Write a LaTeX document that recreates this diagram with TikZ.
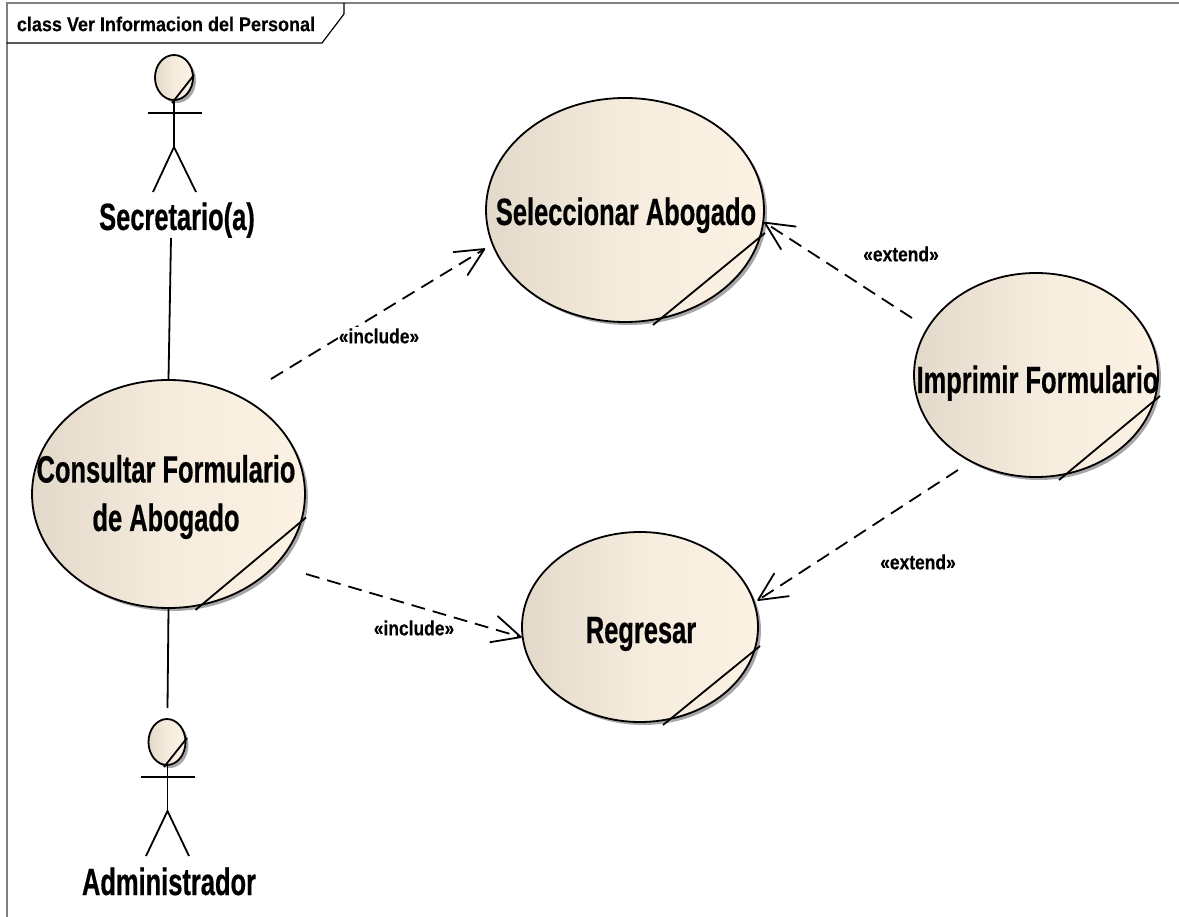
\documentclass[tikz,border=0pt]{standalone}
\usepackage{fontspec}
\usetikzlibrary{arrows.meta,shapes.geometric,shadows}
\newfontfamily\namefont[FakeStretch=.67,BoldFeatures={FakeBold=.5}]{Liberation Sans}
\newfontfamily\smallfont[FakeStretch=.85,BoldFeatures={FakeBold=.2}]{Liberation Sans}
\newfontfamily\titlefont[FakeStretch=.9,BoldFeatures={FakeBold=.2}]{Liberation Sans}
\definecolor{caseleft}{HTML}{E2D9CA}
\definecolor{casemid}{HTML}{F6ECDE}
\definecolor{caseright}{HTML}{FCF2E4}
\tikzset{
	usecase/.style={ellipse,draw,line width=1.8pt,inner sep=0pt,left color=caseleft,right color=caseright,middle color=casemid,
		general shadow={shadow xshift=3pt,shadow yshift=-3pt,fill=black!35}},
	usename/.style={font=\namefont\bfseries\fontsize{38}{48.5}\selectfont,align=center,inner sep=0pt},
	stereo/.style={font=\smallfont\bfseries\fontsize{20.5}{24}\selectfont,fill=white,inner sep=1pt},
	stick/.style={line width=1.8pt},
	dep/.style={line width=1.8pt,dash pattern=on 14pt off 8pt,->,>={Straight Barb[length=28pt,width=27pt,line width=1.8pt,round=false]}}
}
\begin{document}
\begin{tikzpicture}[x=1pt,y=-1pt]
	\useasboundingbox (0,0) rectangle (1179,917);
	% frame
	\draw [line width=2pt,black!50] (6.5,917) -- (6.5,3) -- (1179,3);
	\draw [line width=1.2pt] (6.5,43) -- (322,43) -- (344,14) -- (344,3);
	\node [font=\titlefont\bfseries\fontsize{20}{24}\selectfont,inner sep=0pt] (title) at (166,24) {class Ver Informacion del Personal};

	% actors
	\node [usecase,minimum width=38pt,minimum height=45pt] (sechead) at (174,77.5) {};
	\draw [stick] (172,103) -- (194,75);
	\coordinate (secneck) at (174,100);
	\coordinate (sechip) at (174,147);
	\coordinate (secarml) at (148,113);
	\coordinate (secarmr) at (202,113);
	\coordinate (seclegl) at (153,192);
	\coordinate (seclegr) at (196,192);
	\draw [stick] (secneck) -- (sechip);
	\draw [stick] (secarml) -- (secarmr);
	\draw [stick] (seclegl) -- (sechip) -- (seclegr);
	\node [usename,anchor=base] (secname) at (177,230) {Secretario(a)};

	\node [usecase,minimum width=37pt,minimum height=46pt] (admhead) at (167,742) {};
	\draw [stick] (164,767) -- (187,738);
	\coordinate (admneck) at (167.5,765);
	\coordinate (admhip) at (167.5,811);
	\coordinate (admarml) at (141,777);
	\coordinate (admarmr) at (195,777);
	\coordinate (admlegl) at (146,856);
	\coordinate (admlegr) at (189,856);
	\draw [stick] (admneck) -- (admhip);
	\draw [stick] (admarml) -- (admarmr);
	\draw [stick] (admlegl) -- (admhip) -- (admlegr);
	\node [usename,anchor=base] (admname) at (169,895) {Administrador};

	% use cases
	\node [usecase,minimum width=278pt,minimum height=224pt] (sel) at (625,210) {};
	\node [usecase,minimum width=273pt,minimum height=228pt] (con) at (168.5,494) {};
	\node [usecase,minimum width=244pt,minimum height=204pt] (imp) at (1036,375) {};
	\node [usecase,minimum width=236pt,minimum height=190pt] (reg) at (640,627) {};
	\draw [stick] (653,325) -- (765,233);
	\draw [stick] (195.5,610) -- (306,517.5);
	\draw [stick] (1059,480) -- (1160,396);
	\draw [stick] (663,725) -- (760,646);
	\node [usename,anchor=base] (seltext) at (626,225) {Seleccionar Abogado};
	\node [usename] (context) at (166,497) {Consultar Formulario\\de Abogado};
	\node [usename,anchor=base] (imptext) at (1037.5,393) {Imprimir Formulario};
	\node [usename,anchor=base] (regtext) at (641,643) {Regresar};

	% connectors
	\coordinate (secfoot) at (171,238);
	\coordinate (admtop) at (167.5,708);
	\coordinate (incsel) at (271,379);
	\coordinate (increg) at (306,574);
	\coordinate (extsel) at (912,318);
	\coordinate (extreg) at (958,470);
	\draw [stick] (secfoot) -- (con.north);
	\draw [stick] (con.south) -- (admtop);
	\draw [dep] (incsel) -- ([xshift=-7pt,yshift=-3pt]sel.195);
	\draw [dep] (increg) -- (reg.185);
	\draw [dep] (extsel) -- (sel.355);
	\draw [dep] (extreg) -- ([xshift=3pt]reg.13);
	\node [stereo] (incseltext) at (379,336) {«include»};
	\node [stereo] (incregtext) at (414,628) {«include»};
	\node [stereo] (extseltext) at (901,254) {«extend»};
	\node [stereo] (extregtext) at (918,562) {«extend»};
\end{tikzpicture}
\end{document}
